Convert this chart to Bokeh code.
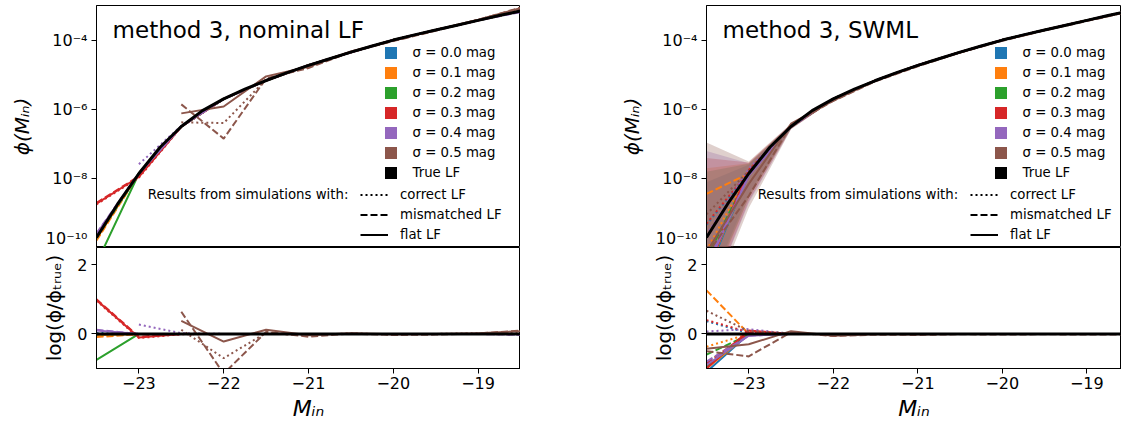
import math
from bokeh.plotting import figure
from bokeh.layouts import row, column
from bokeh.models import (Range1d, FixedTicker, CustomJSTickFormatter, Legend,
                          LegendItem, Label)
from bokeh.embed import file_html
from bokeh.resources import INLINE

FONT = "DejaVu Sans"
nan = float("nan")

# ---------------- data ----------------
M_true = [-23.5, -23.25, -23.0, -22.75, -22.5, -22.25, -22.0, -21.75, -21.5, -21.25,
          -21.0, -20.75, -20.5, -20.25, -20.0, -19.75, -19.5, -19.25, -19.0, -18.75, -18.5]
logphi_true = [-9.71, -8.74, -7.86, -7.10, -6.50, -6.04, -5.70, -5.42, -5.17, -4.94,
               -4.73, -4.54, -4.35, -4.17, -4.00, -3.85, -3.71, -3.57, -3.43, -3.29, -3.16]

M_bins = [-23.5, -23.0, -22.5, -22.0, -21.5, -21.0, -20.5, -20.0, -19.5, -19.0, -18.5]

sigma_labels = ["σ = 0.0 mag", "σ = 0.1 mag", "σ = 0.2 mag",
                "σ = 0.3 mag", "σ = 0.4 mag", "σ = 0.5 mag"]
colors = ["#1f77b4", "#ff7f0e", "#2ca02c", "#d62728", "#9467bd", "#8c564b"]
style_labels = ["correct LF", "mismatched LF", "flat LF"]
style_dashes = ["2 3", "7 3", "solid"]

x_ticks = [-23, -22, -21, -20, -19]
ytop_ticks = [1e-10, 1e-8, 1e-6, 1e-4]
ybot_ticks = [0, 2]

# log10(phi / phi_true) at M_bins -- method 3, nominal LF
nom_correct = [
    [0.03, 0.0, 0.0, 0.0, 0.0, 0.0, 0.0, 0.0, 0.0, 0.0, 0.0],
    [-0.06, 0.0, 0.0, 0.0, 0.0, 0.0, 0.0, 0.0, 0.0, 0.0, 0.0],
    [-0.02, 0.0, 0.0, 0.0, 0.0, 0.0, 0.0, 0.0, 0.0, 0.0, 0.0],
    [0.96, -0.12, -0.01, 0.0, 0.0, 0.0, 0.0, 0.0, 0.0, 0.0, 0.0],
    [nan, 0.27, 0.02, 0.0, 0.0, 0.0, 0.0, 0.0, 0.0, 0.0, -0.02],
    [nan, nan, 0.12, -0.70, 0.03, -0.05, 0.02, -0.02, 0.0, 0.02, 0.05],
]
nom_mismatched = [
    [-0.02, 0.0, 0.0, 0.0, 0.0, 0.0, 0.0, 0.0, 0.0, 0.0, 0.0],
    [-0.09, -0.01, 0.0, 0.0, 0.0, 0.0, 0.0, 0.0, 0.0, 0.0, 0.0],
    [0.0, 0.0, 0.0, 0.0, 0.0, 0.0, 0.0, 0.0, 0.0, 0.0, 0.0],
    [1.0, -0.08, 0.0, 0.0, 0.0, 0.0, 0.0, 0.0, 0.0, 0.0, 0.0],
    [0.12, 0.0, 0.0, 0.0, 0.0, 0.0, 0.0, 0.0, 0.0, 0.0, -0.03],
    [nan, nan, 0.64, -1.15, 0.06, -0.08, 0.01, -0.03, -0.02, 0.01, 0.10],
]
nom_flat = [
    [0.0, 0.0, 0.0, 0.0, 0.0, 0.0, 0.0, 0.0, 0.0, 0.0, 0.0],
    [-0.04, 0.0, 0.0, 0.0, 0.0, 0.0, 0.0, 0.0, 0.0, 0.0, 0.0],
    [-0.75, 0.0, 0.0, 0.0, 0.0, 0.0, 0.0, 0.0, 0.0, 0.0, 0.0],
    [0.98, -0.10, 0.0, 0.0, 0.0, 0.0, 0.0, 0.0, 0.0, 0.0, 0.0],
    [0.10, 0.0, 0.0, 0.0, 0.0, 0.0, 0.0, 0.0, 0.0, 0.0, 0.0],
    [nan, nan, 0.38, -0.22, 0.12, -0.04, 0.02, -0.01, 0.0, 0.02, 0.08],
]

# log10(phi / phi_true) at M_bins -- method 3, SWML
swml_correct = [
    [0.37, 0.02, 0.0, 0.0, 0.0, 0.0, 0.0, 0.0, 0.0, 0.0, 0.0],
    [-0.37, 0.0, 0.0, 0.0, 0.0, 0.0, 0.0, 0.0, 0.0, 0.0, 0.0],
    [-0.85, -0.02, 0.0, 0.0, 0.0, 0.0, 0.0, 0.0, 0.0, 0.0, 0.0],
    [0.40, 0.05, 0.0, 0.0, 0.0, 0.0, 0.0, 0.0, 0.0, 0.0, 0.0],
    [0.07, 0.14, 0.0, 0.0, 0.0, 0.0, 0.0, 0.0, 0.0, 0.0, 0.0],
    [0.67, 0.08, 0.02, -0.03, 0.0, -0.01, 0.0, 0.0, 0.0, 0.0, 0.0],
]
swml_mismatched = [
    [-0.95, -0.03, 0.0, 0.0, 0.0, 0.0, 0.0, 0.0, 0.0, 0.0, 0.0],
    [1.26, 0.0, 0.0, 0.0, 0.0, 0.0, 0.0, 0.0, 0.0, 0.0, 0.0],
    [-0.60, -0.02, 0.0, 0.0, 0.0, 0.0, 0.0, 0.0, 0.0, 0.0, 0.0],
    [-0.85, 0.03, 0.0, 0.0, 0.0, 0.0, 0.0, 0.0, 0.0, 0.0, 0.0],
    [-0.80, -0.05, 0.0, 0.0, 0.0, 0.0, 0.0, 0.0, 0.0, 0.0, 0.0],
    [-0.50, -0.65, 0.05, -0.06, -0.02, -0.03, -0.01, -0.02, -0.01, -0.02, -0.02],
]
swml_flat = [
    [-1.10, 0.0, 0.0, 0.0, 0.0, 0.0, 0.0, 0.0, 0.0, 0.0, 0.0],
    [-1.00, 0.0, 0.0, 0.0, 0.0, 0.0, 0.0, 0.0, 0.0, 0.0, 0.0],
    [-0.95, 0.0, 0.0, 0.0, 0.0, 0.0, 0.0, 0.0, 0.0, 0.0, 0.0],
    [-1.00, 0.10, 0.0, 0.0, 0.0, 0.0, 0.0, 0.0, 0.0, 0.0, 0.0],
    [-0.90, -0.05, 0.0, 0.0, 0.0, 0.0, 0.0, 0.0, 0.0, 0.0, 0.0],
    [-0.43, -0.30, 0.08, -0.05, 0.0, -0.01, 0.0, 0.0, 0.0, 0.0, 0.0],
]
# SWML uncertainty band edges, log10(phi_band / phi_true)
swml_band_hi = [
    [1.60, 0.25, 0.06, 0.03, 0.02, 0.01, 0.01, 0.01, 0.01, 0.01, 0.01],
    [2.00, 0.30, 0.06, 0.03, 0.02, 0.01, 0.01, 0.01, 0.01, 0.01, 0.01],
    [1.90, 0.28, 0.06, 0.03, 0.02, 0.01, 0.01, 0.01, 0.01, 0.01, 0.01],
    [2.30, 0.32, 0.07, 0.03, 0.02, 0.01, 0.01, 0.01, 0.01, 0.01, 0.01],
    [2.50, 0.30, 0.07, 0.03, 0.02, 0.01, 0.01, 0.01, 0.01, 0.01, 0.01],
    [2.75, 0.35, 0.08, 0.04, 0.02, 0.01, 0.01, 0.01, 0.01, 0.01, 0.01],
]
swml_band_lo = [
    [-1.60, -0.60, -0.06, -0.03, -0.02, -0.01, -0.01, -0.01, -0.01, -0.01, -0.01],
    [-1.80, -0.70, -0.06, -0.03, -0.02, -0.01, -0.01, -0.01, -0.01, -0.01, -0.01],
    [-1.70, -0.70, -0.06, -0.03, -0.02, -0.01, -0.01, -0.01, -0.01, -0.01, -0.01],
    [-2.00, -0.80, -0.07, -0.03, -0.02, -0.01, -0.01, -0.01, -0.01, -0.01, -0.01],
    [-2.00, -0.85, -0.07, -0.03, -0.02, -0.01, -0.01, -0.01, -0.01, -0.01, -0.01],
    [-2.20, -1.00, -0.08, -0.04, -0.02, -0.01, -0.01, -0.01, -0.01, -0.01, -0.01],
]

# ---------------- helpers ----------------
logphi_bins = [logphi_true[M_true.index(m)] for m in M_bins]

X_FMT = CustomJSTickFormatter(code="return (tick < 0 ? '\\u2212' : '') + Math.abs(tick).toFixed(0);")
LOG_FMT = CustomJSTickFormatter(code="""
const e = Math.round(Math.log10(tick));
const m = {'-':'\\u207b','0':'\\u2070','1':'\\u00b9','2':'\\u00b2','3':'\\u00b3','4':'\\u2074',
           '5':'\\u2075','6':'\\u2076','7':'\\u2077','8':'\\u2078','9':'\\u2079'};
return '10' + String(e).split('').map(c => m[c]).join('');
""")


def style_axis(ax, label, italic, size="20px"):
    ax.axis_label = label
    ax.axis_label_text_font = FONT
    ax.axis_label_text_font_size = size
    ax.axis_label_text_font_style = "italic" if italic else "normal"
    ax.axis_label_text_color = "black"
    ax.major_label_text_font = FONT
    ax.major_label_text_font_size = "16px"
    ax.major_label_text_color = "black"
    ax.major_tick_out = 5
    ax.major_tick_in = 0
    ax.minor_tick_out = 0
    ax.minor_tick_in = 0
    ax.axis_line_color = "black"
    ax.major_tick_line_color = "black"


def make_panel(title, correct, mismatched, flat, x_end, frame_w, left_border,
               band_hi=None, band_lo=None):
    xr = Range1d(-23.5, x_end)
    common = dict(frame_width=frame_w, x_range=xr, output_backend="svg",
                  toolbar_location=None, min_border_left=left_border,
                  min_border_right=0,
                  background_fill_color="white", border_fill_color="white",
                  outline_line_color="black", outline_line_alpha=1.0,
                  outline_line_width=1)
    top = figure(frame_height=242, y_range=Range1d(1e-10, 1e-3), y_axis_type="log",
                 x_axis_location=None, min_border_top=5, min_border_bottom=0, **common)
    bot = figure(frame_height=121, y_range=Range1d(-1.0, 2.5),
                 min_border_top=0, min_border_bottom=55, **common)
    for p in (top, bot):
        p.xgrid.visible = False
        p.ygrid.visible = False

    top.yaxis.ticker = FixedTicker(ticks=ytop_ticks, minor_ticks=[])
    top.yaxis.formatter = LOG_FMT
    top.yaxis.major_label_standoff = 4
    top.yaxis.axis_label_standoff = 9
    style_axis(top.yaxis[0], "ϕ(Mᵢₙ)", True)

    bot.yaxis.ticker = FixedTicker(ticks=ybot_ticks, minor_ticks=[])
    bot.yaxis.major_label_standoff = 4
    bot.yaxis.axis_label_standoff = 8
    style_axis(bot.yaxis[0], "log(ϕ/ϕₜᵣᵤₑ)", False)

    bot.xaxis.ticker = FixedTicker(ticks=x_ticks, minor_ticks=[])
    bot.xaxis.formatter = X_FMT
    bot.xaxis.major_label_standoff = 3
    bot.xaxis.axis_label_standoff = 4
    style_axis(bot.xaxis[0], "Mᵢₙ", True, size="22px")

    # uncertainty bands
    if band_hi is not None:
        for i, c in enumerate(colors):
            y1 = [10 ** (t + d) for t, d in zip(logphi_bins, band_lo[i])]
            y2 = [10 ** (t + d) for t, d in zip(logphi_bins, band_hi[i])]
            top.varea(x=M_bins, y1=y1, y2=y2, fill_color=c, fill_alpha=0.28)

    # simulation curves
    for i, c in enumerate(colors):
        for ratios, dash in zip((correct, mismatched, flat), style_dashes):
            r = ratios[i]
            yt = [10 ** (t + d) if not math.isnan(d) else nan for t, d in zip(logphi_bins, r)]
            top.line(M_bins, yt, line_color=c, line_width=2, line_dash=dash)
            bot.line(M_bins, r, line_color=c, line_width=2, line_dash=dash)

    # true LF
    top.line(M_true, [10 ** v for v in logphi_true], line_color="black", line_width=3)
    bot.line(M_true, [v - v for v in logphi_true], line_color="black", line_width=3)

    top.add_layout(Label(x=-23.31, y=10 ** -3.70, text=title, text_font=FONT,
                         text_font_size="23px", text_color="black",
                         text_baseline="alphabetic"))
    top.add_layout(Label(x=-22.895, y=10 ** -8.47, text="Results from simulations with:",
                         text_font=FONT, text_font_size="13.3px", text_color="black",
                         text_baseline="middle"))

    # legend 1: colours (proxy renderers without visible data)
    items1 = []
    for c, lab in zip(colors + ["black"], sigma_labels + ["True LF"]):
        rr = top.quad(left=[nan], right=[nan], top=[nan], bottom=[nan],
                      fill_color=c, line_color=None)
        items1.append(LegendItem(label=lab, renderers=[rr]))
    leg1 = Legend(items=items1, location=(286.5, 67.5), glyph_width=15, glyph_height=15,
                  label_height=15, spacing=5, label_standoff=15, padding=0, margin=0,
                  border_line_color=None, background_fill_alpha=0,
                  label_text_font=FONT, label_text_font_size="13.3px",
                  label_text_color="black")
    top.add_layout(leg1)

    # legend 2: line styles
    items2 = []
    for lab, dash in zip(style_labels, style_dashes):
        rr = top.line(x=[nan], y=[nan], line_color="black", line_width=2, line_dash=dash)
        items2.append(LegendItem(label=lab, renderers=[rr]))
    leg2 = Legend(items=items2, location=(264, 5.5), glyph_width=28, glyph_height=15,
                  label_height=15, spacing=5, label_standoff=12, padding=0, margin=0,
                  border_line_color=None, background_fill_alpha=0,
                  label_text_font=FONT, label_text_font_size="13.3px",
                  label_text_color="black")
    top.add_layout(leg2)

    return column(top, bot)


left = make_panel("method 3, nominal LF", nom_correct, nom_mismatched, nom_flat,
                  x_end=-18.5, frame_w=424, left_border=96)
right = make_panel("method 3, SWML", swml_correct, swml_mismatched, swml_flat,
                   x_end=-18.59, frame_w=415, left_border=186,
                   band_hi=swml_band_hi, band_lo=swml_band_lo)

layout = row(left, right)
open("out.html", "w").write(file_html(layout, INLINE))
